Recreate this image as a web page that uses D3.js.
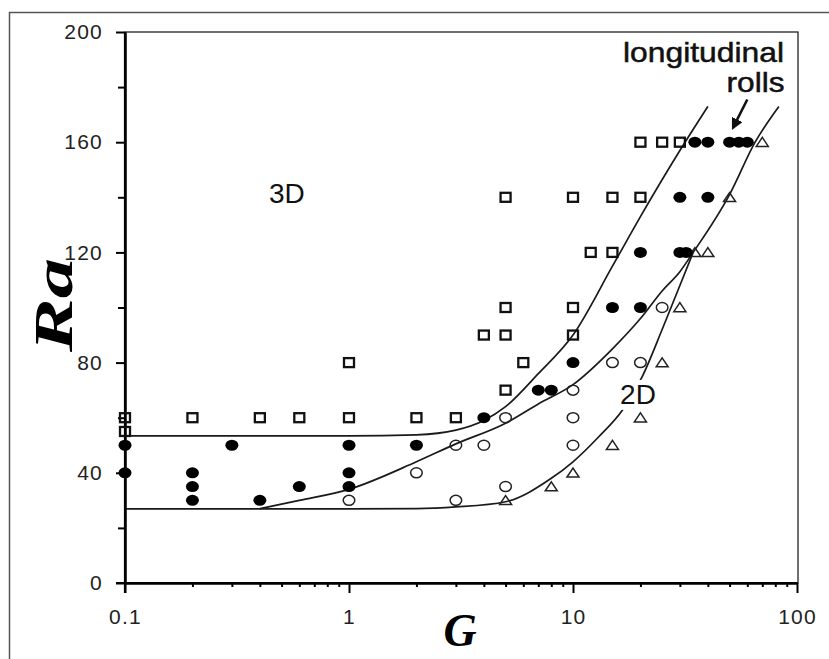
<!DOCTYPE html>
<html>
<head>
<meta charset="utf-8">
<script src="https://cdn.jsdelivr.net/npm/d3@7"></script>
<style>
body { margin: 0; background: #fff; }
svg { display: block; }
</style>
</head>
<body>
<svg id="chart" width="829" height="659"></svg>
<script>
// tick labels
var x_ticks = [0.1, 1, 10, 100];
var y_ticks = [0, 40, 80, 120, 160, 200];
var y_minor = [20, 60, 100, 140, 180];

// markers, [G, Ra]
var squares = [[0.1,60],[0.1,55],[0.2,60],[0.4,60],[0.6,60],[1,60],[1,80],[2,60],[3,60],
    [4,90],[5,140],[5,100],[5,90],[5,70],[6,80],[10,140],[10,100],[10,90],[12,120],
    [15,140],[15,120],[20,160],[20,140],[25,160],[30,160]];
var filled = [[0.1,50],[0.1,40],[0.2,40],[0.2,35],[0.2,30],[0.3,50],[0.4,30],[0.6,35],
    [1,50],[1,40],[1,35],[2,50],[4,60],[7,70],[8,70],[10,80],[15,100],[20,100],[20,120],
    [30,120],[32,120],[30,140],[40,140],[35,160],[40,160],[50,160],[55,160],[60,160]];
var open_circles = [[1,30],[2,40],[3,50],[3,30],[4,50],[5,60],[5,35],[10,70],[10,60],
    [10,50],[15,80],[20,80],[25,100]];
var triangles = [[5,30],[8,35],[10,40],[15,50],[20,60],[25,80],[30,100],[35,120],
    [40,120],[50,140],[70,160]];

// boundary curves
var curve_upper = [[0.1,53.4],[1,53.4],[2,53.8],[3,55.5],[4,59],[5,64],[7,76],[10,90],
    [15,115],[20,133],[30,157],[40,173]];
var curve_middle = [[0.4,27],[0.6,30],[1,34],[2,44],[3,50.5],[5,58],[7,65],[10,72],
    [15,85],[20,96],[25,106],[30,113],[34.4,120],[50,141],[65,160],[83,173]];
var curve_lower = [[0.1,26.9],[1,26.9],[2,27],[3,27.6],[5,29.5],[8,38],[10,44],[13,53],
    [16.7,63],[20.4,75],[25,92],[30,108],[34.4,120]];

var svg = d3.select("#chart");
var left = 125, right = 797, top_y = 32, bottom = 583;

var x_scale = d3.scaleLog().domain([0.1, 100]).range([left, right]);
var y_scale = d3.scaleLinear().domain([0, 200]).range([bottom, top_y]);

// outer frame
svg.append("path")
    .attr("d", "M9.5,659 V12.5 H829")
    .attr("fill", "none").attr("stroke", "#555").attr("stroke-width", 1.5);

// plot frame (top and right)
svg.append("rect")
    .attr("x", left).attr("y", top_y)
    .attr("width", right - left + 1).attr("height", bottom - top_y)
    .attr("fill", "none").attr("stroke", "#222").attr("stroke-width", 1.3);

// curves
var line = d3.line()
    .x(function(d) { return x_scale(d[0]); })
    .y(function(d) { return y_scale(d[1]); })
    .curve(d3.curveMonotoneX);

[curve_upper, curve_middle, curve_lower].forEach(function(c) {
    svg.append("path")
        .attr("d", line(c))
        .attr("fill", "none")
        .attr("stroke", "#1a1a1a")
        .attr("stroke-width", 1.7);
});

// axes
var minor_x = x_scale.ticks().filter(function(v) { return x_ticks.indexOf(v) < 0; });

var x_minor_axis = d3.axisBottom(x_scale).tickValues(minor_x).tickSize(4).tickFormat("").tickSizeOuter(0);
svg.append("g").attr("transform", "translate(0," + bottom + ")").call(x_minor_axis);

var x_axis = d3.axisBottom(x_scale).tickValues(x_ticks).tickSize(10).tickPadding(16).tickSizeOuter(0)
    .tickFormat(function(d) { return d3.format("~g")(d); });
svg.append("g").attr("transform", "translate(0," + bottom + ")").call(x_axis);

var y_minor_axis = d3.axisLeft(y_scale).tickValues(y_minor).tickSize(7).tickFormat("").tickSizeOuter(0);
svg.append("g").attr("transform", "translate(" + left + ",0)").call(y_minor_axis);

var y_axis = d3.axisLeft(y_scale).tickValues(y_ticks).tickSize(9).tickPadding(13).tickSizeOuter(0);
svg.append("g").attr("transform", "translate(" + left + ",0)").call(y_axis);

svg.selectAll(".domain").attr("stroke", "#000").attr("stroke-width", 2);
svg.selectAll(".tick line").attr("stroke", "#000").attr("stroke-width", 2);
svg.selectAll(".tick text")
    .attr("font-family", "'Liberation Sans', Arial, sans-serif")
    .attr("font-size", 21)
    .attr("letter-spacing", 1.2)
    .attr("fill", "#222");
// y axis line runs down past the x axis, as in the original
svg.append("line")
    .attr("x1", left).attr("x2", left).attr("y1", top_y).attr("y2", bottom + 10)
    .attr("stroke", "#000").attr("stroke-width", 2.2);
svg.append("line")
    .attr("x1", left - 9).attr("x2", right).attr("y1", bottom).attr("y2", bottom)
    .attr("stroke", "#000").attr("stroke-width", 2.2);

// markers
svg.selectAll("rect.sq")
    .data(squares)
    .enter()
    .append("rect")
    .attr("class", "sq")
    .attr("x", function(d) { return x_scale(d[0]) - 5; })
    .attr("y", function(d) { return y_scale(d[1]) - 4.5; })
    .attr("width", 10).attr("height", 9)
    .attr("fill", "none").attr("stroke", "#111").attr("stroke-width", 2.3);

svg.selectAll("ellipse.open")
    .data(open_circles)
    .enter()
    .append("ellipse")
    .attr("class", "open")
    .attr("cx", function(d) { return x_scale(d[0]); })
    .attr("cy", function(d) { return y_scale(d[1]); })
    .attr("rx", 5.8).attr("ry", 5)
    .attr("fill", "none").attr("stroke", "#222").attr("stroke-width", 1.5);

svg.selectAll("path.tri")
    .data(triangles)
    .enter()
    .append("path")
    .attr("class", "tri")
    .attr("d", function(d) {
        var cx = x_scale(d[0]), cy = y_scale(d[1]);
        return "M" + (cx - 6) + "," + (cy + 4.2) + " L" + cx + "," + (cy - 4.8) +
            " L" + (cx + 6) + "," + (cy + 4.2) + " Z";
    })
    .attr("fill", "none").attr("stroke", "#222").attr("stroke-width", 1.5);

svg.selectAll("ellipse.filled")
    .data(filled)
    .enter()
    .append("ellipse")
    .attr("class", "filled")
    .attr("cx", function(d) { return x_scale(d[0]); })
    .attr("cy", function(d) { return y_scale(d[1]); })
    .attr("rx", 6.5).attr("ry", 5.5)
    .attr("fill", "#000");

// region labels
var sans = "'Liberation Sans', Arial, sans-serif";
svg.append("text")
    .attr("x", x_scale(0.528)).attr("y", y_scale(138))
    .attr("text-anchor", "middle")
    .attr("font-family", sans).attr("font-size", 28).attr("fill", "#111")
    .text("3D");

var label_2d = svg.append("g");
label_2d.append("rect")
    .attr("x", x_scale(19.5) - 22).attr("y", y_scale(65) - 24)
    .attr("width", 44).attr("height", 30).attr("fill", "#fff");
label_2d.append("text")
    .attr("x", x_scale(19.5)).attr("y", y_scale(65))
    .attr("text-anchor", "middle")
    .attr("font-family", sans).attr("font-size", 28).attr("fill", "#111")
    .text("2D");

svg.append("text")
    .attr("x", x_scale(87.5)).attr("y", y_scale(189))
    .attr("text-anchor", "end")
    .attr("font-family", sans).attr("font-size", 28).attr("fill", "#111")
    .attr("stroke", "#111").attr("stroke-width", 0.5)
    .attr("textLength", 161).attr("lengthAdjust", "spacingAndGlyphs")
    .text("longitudinal");
svg.append("text")
    .attr("x", x_scale(88)).attr("y", y_scale(178.2))
    .attr("text-anchor", "end")
    .attr("font-family", sans).attr("font-size", 28).attr("fill", "#111")
    .attr("stroke", "#111").attr("stroke-width", 0.5)
    .attr("textLength", 58).attr("lengthAdjust", "spacingAndGlyphs")
    .text("rolls");

// arrow
var arrow_from = [60, 175.5], arrow_to = [53.5, 167.5];
svg.append("defs").append("marker")
    .attr("id", "head").attr("viewBox", "0 0 10 10")
    .attr("refX", 2).attr("refY", 5)
    .attr("markerWidth", 4.5).attr("markerHeight", 4.5)
    .attr("orient", "auto")
    .append("path").attr("d", "M0,0 L10,5 L0,10 Z").attr("fill", "#111");
svg.append("line")
    .attr("x1", x_scale(arrow_from[0])).attr("y1", y_scale(arrow_from[1]))
    .attr("x2", x_scale(arrow_to[0])).attr("y2", y_scale(arrow_to[1]))
    .attr("stroke", "#111").attr("stroke-width", 2.6)
    .attr("marker-end", "url(#head)");

// axis titles
var serif = "'Liberation Serif', 'Times New Roman', serif";
svg.append("text")
    .attr("x", 460).attr("y", 646)
    .attr("text-anchor", "middle")
    .attr("font-family", serif).attr("font-size", 46)
    .attr("font-weight", "bold").attr("font-style", "italic")
    .text("G");
svg.append("text")
    .attr("transform", "translate(72,305) rotate(-90)")
    .attr("text-anchor", "middle")
    .attr("font-family", serif).attr("font-size", 54)
    .attr("font-weight", "bold").attr("font-style", "italic")
    .attr("textLength", 94).attr("lengthAdjust", "spacingAndGlyphs")
    .text("Ra");
</script>
</body>
</html>
